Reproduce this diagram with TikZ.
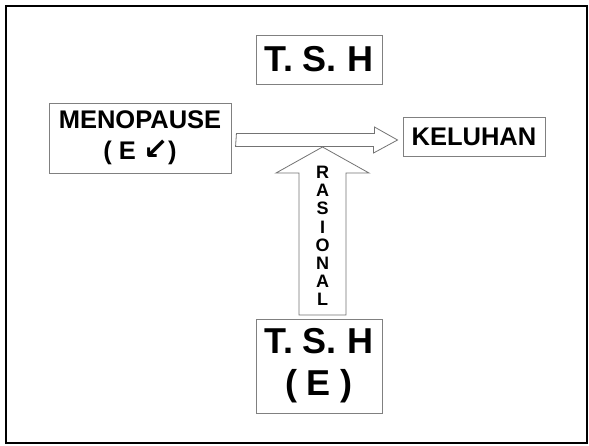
\documentclass[tikz,border=0pt]{standalone}
\usepackage{fontspec}
\setmainfont{Liberation Sans}
\newfontfamily\arrowfont{DejaVu Sans}
\begin{document}
\begin{tikzpicture}[x=1pt,y=-1pt,
  box/.style={draw=black!50,line width=0.9pt,fill=white,inner sep=0pt,align=center,font=\bfseries},
  blockarrow/.style={draw=black!55,line width=0.8pt,fill=white,line join=miter}]
\useasboundingbox (0,0) rectangle (589,446);
\draw[line width=2pt] (6,6) rectangle (587,443);
% boxes
\node[box,minimum width=126pt,minimum height=49pt,font=\bfseries\fontsize{36}{40}\selectfont] (tsh) at (319,59.5) {T. S. H};
\node[box,minimum width=182pt,minimum height=70pt,font=\bfseries\fontsize{25.5}{31}\selectfont] (meno) at (140,138) {MENOPAUSE\\( E {\arrowfont\bfseries\fontsize{30}{31}\selectfont ↙})};
\node[box,minimum width=142pt,minimum height=39pt,font=\bfseries\fontsize{25.5}{30}\selectfont] (kel) at (474,136.5) {KELUHAN};
\node[box,minimum width=126pt,minimum height=94pt,font=\bfseries\fontsize{36}{42}\selectfont] (tshe) at (319,366) {T. S. H\\( E )};
% horizontal block arrow from meno to kel
\coordinate (hs) at ([xshift=5pt]meno.east |- 0,140);
\coordinate (ht) at ([xshift=-5pt]kel.west |- 0,140);
\draw[blockarrow] (hs) ++(0,-6.5) -- ++(138,0) -- ++(0,-6.5) -- (ht) -- ++(-24,13) -- ++(0,-6.5) -- ++(-138,0) -- cycle;
% vertical block arrow from tshe up
\coordinate (vb) at (322.5,315);
\coordinate (vt) at (322.5,147);
\draw[blockarrow] (vb) ++(-23.5,0) -- ++(0,-142) -- ++(-23,0) -- (vt) -- (369,173) -- (346,173) -- (346,315) -- cycle;
\node[inner sep=0pt,align=center,font=\bfseries\fontsize{18}{18.2}\selectfont] (ras) at (322.5,236) {R\\A\\S\\I\\O\\N\\A\\L};
\end{tikzpicture}
\end{document}
